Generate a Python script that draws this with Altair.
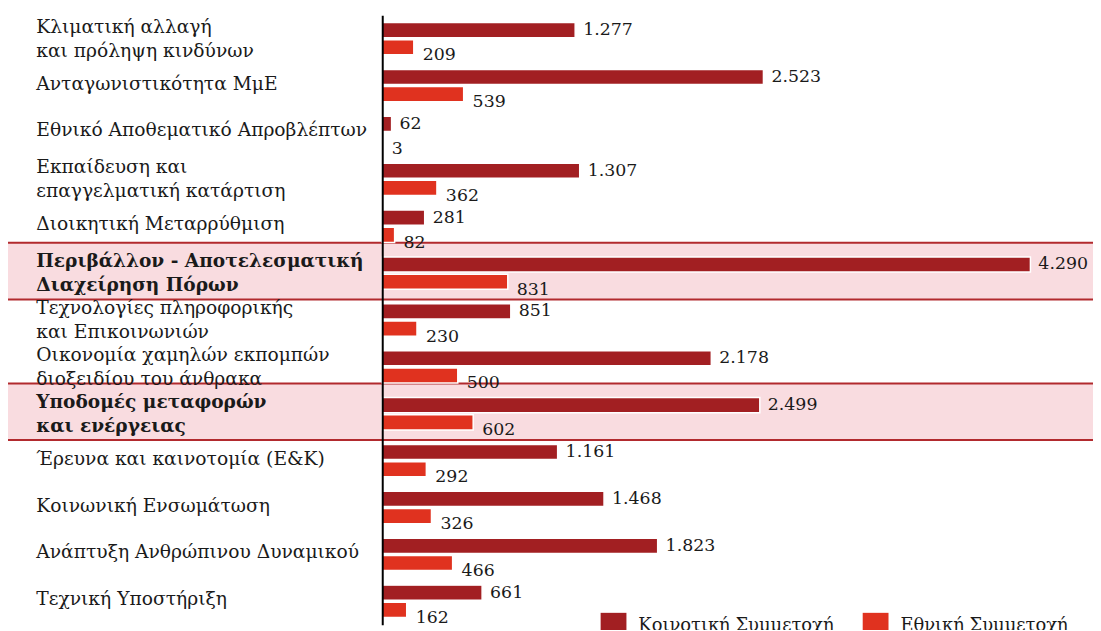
import altair as alt
import pandas as pd

categories = [
    "Κλιματική αλλαγή|\u00a0και πρόληψη κινδύνων",
    "Ανταγωνιστικότητα ΜμΕ",
    "Εθνικό Αποθεματικό Απροβλέπτων",
    "Εκπαίδευση και|επαγγελματική κατάρτιση",
    "Διοικητική Μεταρρύθμιση",
    "Περιβάλλον - Αποτελεσματική|Διαχείρηση Πόρων",
    "Τεχνολογίες πληροφορικής|και Επικοινωνιών",
    "Οικονομία χαμηλών εκπομπών|διοξειδίου του άνθρακα",
    "Υποδομές μεταφορών|και ενέργειας",
    "Έρευνα και καινοτομία (Ε&Κ)",
    "Κοινωνική Ενσωμάτωση",
    "Ανάπτυξη Ανθρώπινου Δυναμικού",
    "Τεχνική Υποστήριξη",
]
community = [1277, 2523, 62, 1307, 281, 4290, 851, 2178, 2499, 1161, 1468, 1823, 661]
national = [209, 539, 3, 362, 82, 831, 230, 500, 602, 292, 326, 466, 162]
highlighted = [
    "Περιβάλλον - Αποτελεσματική|Διαχείρηση Πόρων",
    "Υποδομές μεταφορών|και ενέργειας",
]
series_names = ["Κοινοτική Συμμετοχή", "Εθνική Συμμετοχή"]
series_colors = ["#A21F22", "#E0321F"]

FONT = "DejaVu Serif"

rows = []
for c, a, b in zip(categories, community, national):
    rows.append({"cat": c, "series": series_names[0], "value": a})
    rows.append({"cat": c, "series": series_names[1], "value": b})
df = pd.DataFrame(rows)
df["label"] = df["value"].map(lambda v: f"{v:,}".replace(",", "."))
hl = pd.DataFrame({"cat": highlighted})

bold_test = "indexof([" + ",".join("'" + h + "'" for h in highlighted) + "], datum.value) >= 0"
multi_test = "indexof(datum.value, '|') >= 0"

yenc = alt.Y(
    "cat:N",
    sort=categories,
    scale=alt.Scale(domain=categories, paddingInner=0.31, paddingOuter=0.155),
    axis=alt.Axis(
        title=None,
        ticks=False,
        tickSize=0,
        grid=False,
        labelAlign="left",
        labelBaseline="middle",
        labelPadding=349,
        labelLimit=0,
        labelFont=FONT,
        labelFontSize={"condition": {"test": bold_test, "value": 18.7}, "value": 18.8},
        labelColor="#1a1a1a",
        labelLineHeight=24,
        labelOffset={"condition": {"test": multi_test, "value": -12}, "value": -2},
        labelExpr="split(datum.label, '|')",
        labelFontWeight={"condition": {"test": bold_test, "value": "bold"}, "value": "normal"},
        domainColor="black",
        domainWidth=2,
        zindex=1,
    ),
)
yoff = alt.YOffset("series:N", sort=series_names, scale=alt.Scale(paddingInner=0.12, paddingOuter=0))
xenc = alt.X("value:Q", scale=alt.Scale(domain=[0, 4599], nice=False, zero=True), axis=None)

boxes = alt.Chart(hl).mark_bar(
    size=57, yOffset=-2, fill="#F9DCE0", stroke="#B22A2E", strokeWidth=2
).encode(
    y=alt.Y("cat:N", sort=categories, scale=alt.Scale(domain=categories)),
    x=alt.value(-378),
    x2=alt.value(760),
)

bars = alt.Chart(df).mark_bar(stroke="white", strokeWidth=1.5).encode(
    y=yenc,
    yOffset=yoff,
    x=xenc,
    color=alt.Color(
        "series:N",
        sort=series_names,
        scale=alt.Scale(domain=series_names, range=series_colors),
        legend=alt.Legend(
            title=None,
            orient="none",
            legendX=220,
            legendY=602,
            direction="horizontal",
            symbolType="square",
            symbolSize=676,
            symbolStrokeWidth=0,
            labelFont=FONT,
            labelFontSize=18,
            labelLimit=0,
            labelColor="#1a1a1a",
            labelOffset=12,
            columnPadding=29,
            padding=0,
        ),
    ),
)

text_comm = alt.Chart(df[df["series"] == series_names[0]]).mark_text(
    align="left", baseline="middle", dx=8, font=FONT, fontSize=17.5, color="#1a1a1a"
).encode(y=alt.Y("cat:N", sort=categories), yOffset=yoff, x=xenc, text="label:N")

text_nat = alt.Chart(df[df["series"] == series_names[1]]).mark_text(
    align="left", baseline="middle", dx=9, dy=8, font=FONT, fontSize=17.5, color="#1a1a1a"
).encode(y=alt.Y("cat:N", sort=categories), yOffset=yoff, x=xenc, text="label:N")

chart = alt.layer(boxes, bars, text_comm, text_nat).properties(
    width=700,
    height=614,
    autosize=alt.AutoSizeParams(type="none"),
    padding={"left": 377, "top": 5, "right": 16, "bottom": 3},
).configure_view(stroke=None)

chart.save("out.html", embed_options={"renderer": "svg", "actions": False})
